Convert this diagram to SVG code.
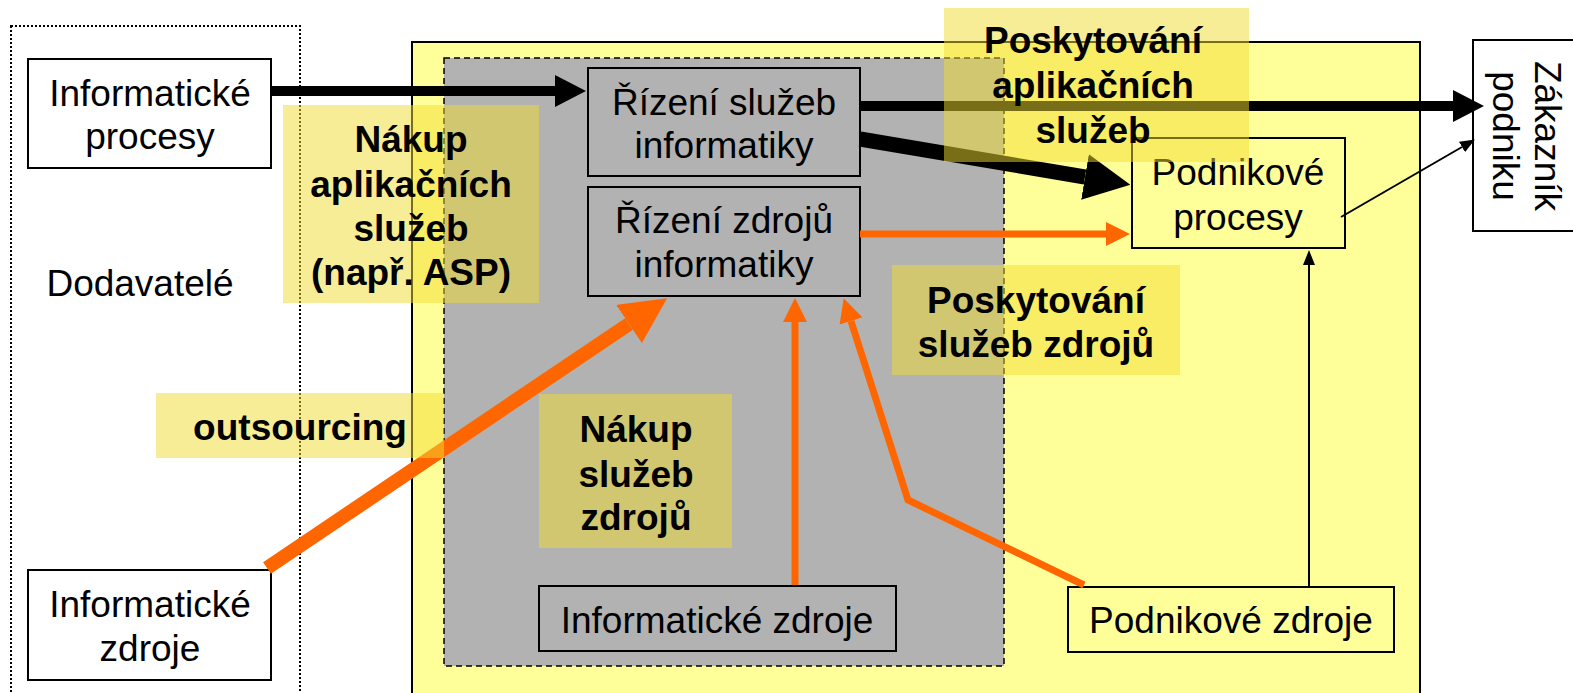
<svg xmlns="http://www.w3.org/2000/svg" width="1573" height="693" viewBox="0 0 1573 693">
<style>
text{font-family:"Liberation Sans",Arial,sans-serif;font-size:37px;fill:#000;text-anchor:middle}
.b{font-weight:bold}
.box{stroke:#000;stroke-width:2}
.wht{fill:#fff}
.gry{fill:#B2B2B2}
.ylw{fill:#FFFF99}
.lbl{fill:#F2DC30;fill-opacity:0.5;stroke:none}
.blk{stroke:#000;fill:none}
.org{stroke:#FF6600;fill:none}
</style>
<defs>
<marker id="hb" markerUnits="userSpaceOnUse" viewBox="0 -16 31 32" refX="0" refY="0" markerWidth="31" markerHeight="32" orient="auto"><path d="M0,-16 L31,0 L0,16 z" fill="#000"/></marker>
<marker id="hbL" markerUnits="userSpaceOnUse" viewBox="0 -23 46 46" refX="0" refY="0" markerWidth="46" markerHeight="46" orient="auto"><path d="M0,-23 L46,0 L0,23 z" fill="#000"/></marker>
<marker id="hoL" markerUnits="userSpaceOnUse" viewBox="0 -23 46 46" refX="0" refY="0" markerWidth="46" markerHeight="46" orient="auto"><path d="M0,-23 L46,0 L0,23 z" fill="#FF6600"/></marker>
<marker id="ho" markerUnits="userSpaceOnUse" viewBox="0 -12 24 24" refX="0" refY="0" markerWidth="24" markerHeight="24" orient="auto"><path d="M0,-12 L24,0 L0,12 z" fill="#FF6600"/></marker>
<marker id="ht" markerUnits="userSpaceOnUse" viewBox="0 -6 15 12" refX="0" refY="0" markerWidth="15" markerHeight="12" orient="auto"><path d="M0,-6 L15,0 L0,6 z" fill="#000"/></marker>
</defs>

<g id="podnik-area">
<rect x="412" y="42" width="1008" height="700" class="ylw" stroke="#000" stroke-width="2"/>
</g>
<g id="informatika-area">
<rect x="444" y="58" width="560" height="608" class="gry" stroke="#000" stroke-width="1.5" stroke-dasharray="6,4"/>
</g>
<g id="dodavatele">
<rect x="11" y="26" width="289" height="720" fill="none" stroke="#000" stroke-width="2" stroke-dasharray="2,2"/>
<text x="140" y="296">Dodavatelé</text>
</g>

<g id="informaticke-procesy">
<rect x="28" y="59" width="243" height="109" class="box wht"/>
<text x="150" y="106">Informatické</text>
<text x="150" y="149">procesy</text>
</g>
<g id="informaticke-zdroje-ext">
<rect x="28" y="570" width="243" height="110" class="box wht"/>
<text x="150" y="617">Informatické</text>
<text x="150" y="661">zdroje</text>
</g>
<g id="rizeni-sluzeb">
<rect x="588" y="68" width="272" height="108" class="box gry"/>
<text x="724" y="115">Řízení služeb</text>
<text x="724" y="158">informatiky</text>
</g>
<g id="rizeni-zdroju">
<rect x="588" y="187" width="272" height="109" class="box gry"/>
<text x="724" y="233">Řízení zdrojů</text>
<text x="724" y="277">informatiky</text>
</g>
<g id="informaticke-zdroje">
<rect x="539" y="586" width="357" height="65" class="box gry"/>
<text x="717" y="633">Informatické zdroje</text>
</g>
<g id="podnikove-procesy">
<rect x="1132" y="138" width="213" height="110" class="box ylw"/>
<text x="1238" y="185">Podnikové</text>
<text x="1238" y="230">procesy</text>
</g>
<g id="podnikove-zdroje">
<rect x="1068" y="587" width="326" height="65" class="box ylw"/>
<text x="1231" y="633">Podnikové zdroje</text>
</g>
<g id="zakaznik">
<rect x="1473" y="40" width="110" height="191" class="box wht"/>
<g transform="translate(1550,136) rotate(90)">
<text x="0" y="15">Zákazník</text>
<text x="0" y="57">podniku</text>
</g>
</g>

<g id="connectors">
<line x1="271" y1="91" x2="555" y2="91" class="blk" stroke-width="10" marker-end="url(#hb)"/>
<line x1="860" y1="106" x2="1453" y2="106" class="blk" stroke-width="10" marker-end="url(#hb)"/>
<line x1="860" y1="139" x2="1085" y2="177" class="blk" stroke-width="15" marker-end="url(#hbL)"/>
<line x1="860" y1="234" x2="1106" y2="234" class="org" stroke-width="7" marker-end="url(#ho)"/>
<line x1="267" y1="568" x2="629" y2="324" class="org" stroke-width="14" marker-end="url(#hoL)"/>
<line x1="795" y1="585" x2="795" y2="322" class="org" stroke-width="7" marker-end="url(#ho)"/>
<polyline points="1084,585 908,500 851,321" class="org" stroke-width="7" marker-end="url(#ho)"/>
<line x1="1341" y1="217" x2="1462" y2="147" class="blk" stroke-width="2" marker-end="url(#ht)"/>
<line x1="1309" y1="587" x2="1309" y2="265" class="blk" stroke-width="2" marker-end="url(#ht)"/>
</g>

<g id="label-nakup-aplikacnich">
<rect x="283" y="105" width="256" height="198" class="lbl"/>
<text class="b" x="411" y="152">Nákup</text>
<text class="b" x="411" y="197">aplikačních</text>
<text class="b" x="411" y="241">služeb</text>
<text class="b" x="411" y="285">(např. ASP)</text>
</g>
<g id="label-poskytovani-aplikacnich">
<rect x="944" y="8" width="305" height="154" class="lbl"/>
<text class="b" x="1093" y="53">Poskytování</text>
<text class="b" x="1093" y="98">aplikačních</text>
<text class="b" x="1093" y="143">služeb</text>
</g>
<g id="label-outsourcing">
<rect x="156" y="393" width="288" height="65" class="lbl"/>
<text class="b" x="300" y="440">outsourcing</text>
</g>
<g id="label-nakup-zdroju">
<rect x="539" y="394" width="193" height="154" class="lbl"/>
<text class="b" x="636" y="442">Nákup</text>
<text class="b" x="636" y="487">služeb</text>
<text class="b" x="636" y="530">zdrojů</text>
</g>
<g id="label-poskytovani-zdroju">
<rect x="892" y="265" width="288" height="110" class="lbl"/>
<text class="b" x="1036" y="313">Poskytování</text>
<text class="b" x="1036" y="357">služeb zdrojů</text>
</g>
</svg>
